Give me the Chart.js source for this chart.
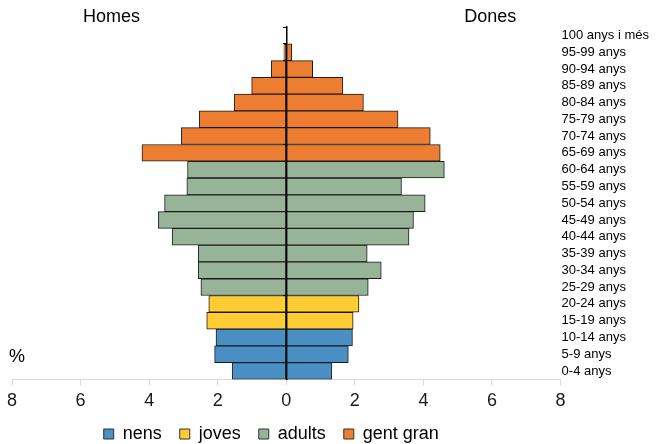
<!DOCTYPE html>
<html>
<head>
<meta charset="utf-8">
<script src="https://cdn.jsdelivr.net/npm/chart.js@4/dist/chart.umd.min.js"></script>
<style>
  body { margin: 0; background: #fff; }
  #wrap { position: relative; width: 664px; height: 444px; }
</style>
</head>
<body>
<div id="wrap"><canvas id="piramide"></canvas></div>
<script>
// grups d'edat, de dalt a baix
const ageGroups = ["100 anys i més", "95-99 anys", "90-94 anys", "85-89 anys", "80-84 anys",
  "75-79 anys", "70-74 anys", "65-69 anys", "60-64 anys", "55-59 anys", "50-54 anys",
  "45-49 anys", "40-44 anys", "35-39 anys", "30-34 anys", "25-29 anys", "20-24 anys",
  "15-19 anys", "10-14 anys", "5-9 anys", "0-4 anys"];

// % de població
const homes = [0.0, 0.07, 0.44, 1.01, 1.52, 2.54, 3.06, 4.21, 2.88, 2.90, 3.55,
  3.73, 3.33, 2.57, 2.57, 2.49, 2.26, 2.32, 2.05, 2.09, 1.58];
const dones = [0.0, 0.16, 0.77, 1.65, 2.25, 3.26, 4.20, 4.49, 4.61, 3.36, 4.05,
  3.71, 3.58, 2.36, 2.77, 2.39, 2.12, 1.95, 1.93, 1.81, 1.33];

const groupNames = ["nens", "joves", "adults", "gent gran"];
const groupOf = [3, 3, 3, 3, 3, 3, 3, 3, 2, 2, 2, 2, 2, 2, 2, 2, 1, 1, 0, 0, 0];
const groupColors = ["#4a8fc4", "#ffcc33", "#97b498", "#ed7d31"];

const xTicks = [-8, -6, -4, -2, 0, 2, 4, 6, 8];

const barColors = groupOf.map((g) => groupColors[g]);
const FONT = "'Liberation Sans', Arial, sans-serif";

const textPlugin = {
  id: "sideTexts",
  afterDraw(chart) {
    const { ctx, scales } = chart;
    ctx.save();
    ctx.font = "18px " + FONT;
    ctx.fillStyle = "#000";
    ctx.textAlign = "center";
    ctx.textBaseline = "middle";
    ctx.fillText("Homes", scales.x.getPixelForValue(-5.1), 17);
    ctx.fillText("Dones", scales.x.getPixelForValue(5.95), 17);
    ctx.textAlign = "left";
    ctx.fillText("%", 9, 357);
    ctx.restore();
  },
};

new Chart(document.getElementById("piramide"), {
  type: "bar",
  data: {
    labels: ageGroups,
    datasets: [
      {
        label: "Homes",
        data: homes.map((v) => -v),
        backgroundColor: barColors,
        borderColor: "#1a1a1a",
        borderWidth: 1,
        borderSkipped: false,
      },
      {
        label: "Dones",
        data: dones,
        backgroundColor: barColors,
        borderColor: "#1a1a1a",
        borderWidth: 1,
        borderSkipped: false,
      },
    ],
  },
  options: {
    indexAxis: "y",
    responsive: true,
    maintainAspectRatio: false,
    animation: false,
    barPercentage: 1,
    categoryPercentage: 1,
    layout: { padding: { top: 27, left: 12, right: 14, bottom: -9 } },
    scales: {
      x: {
        stacked: true,
        min: -8,
        max: 8,
        afterBuildTicks: (scale) => {
          scale.ticks = xTicks.map((v) => ({ value: v }));
        },
        grid: { drawOnChartArea: false, drawTicks: true, tickLength: 6, color: "#d9d9d9" },
        border: { color: "#d9d9d9" },
        ticks: {
          callback: (v) => Math.abs(v),
          font: { family: FONT, size: 18 },
          color: "#1a1a1a",
          padding: 5,
          maxRotation: 0,
        },
      },
      y: {
        stacked: true,
        position: "right",
        grid: { display: false, drawTicks: false, tickLength: 0 },
        border: { display: false },
        ticks: {
          font: { family: FONT, size: 13 },
          color: "#000",
          padding: 1,
          autoSkip: false,
        },
      },
      y2: {
        type: "category",
        position: { x: 0 },
        z: 1,
        grid: { drawOnChartArea: false, drawTicks: true, tickLength: 3, color: "#000" },
        border: { color: "#000", width: 1.5 },
        ticks: { display: false },
      },
    },
    plugins: {
      tooltip: { enabled: false },
      legend: {
        position: "bottom",
        fullSize: false,
        labels: {
          boxWidth: 10,
          boxHeight: 10,
          padding: 8,
          color: "#000",
          font: { family: FONT, size: 18 },
          // trailing spaces widen the gaps like the original legend
          generateLabels: () =>
            groupNames.map((name, i) => ({
              text: name + (i < groupNames.length - 1 ? "  " : "      "),
              fillStyle: groupColors[i],
              strokeStyle: "#333",
              lineWidth: 1,
              hidden: false,
              datasetIndex: 0,
            })),
        },
        onClick: () => {},
      },
    },
  },
  plugins: [textPlugin],
});
</script>
</body>
</html>
